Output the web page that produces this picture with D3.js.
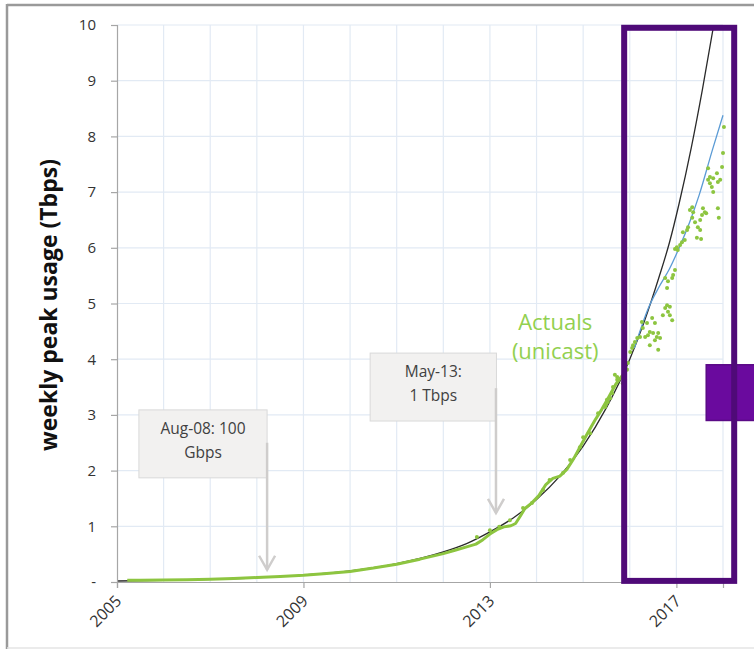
<!DOCTYPE html>
<html>
<head>
<meta charset="utf-8">
<script src="https://cdn.jsdelivr.net/npm/d3@7"></script>
<style>
  html, body { margin: 0; padding: 0; background: #fff; }
  svg { display: block; }
</style>
</head>
<body>
<script>
// ---------------- data ----------------
const xTickYears = [2005, 2009, 2013, 2017];
const yTickValues = [0, 1, 2, 3, 4, 5, 6, 7, 8, 9, 10];
const gridYears = [2006, 2007, 2008, 2009, 2010, 2011, 2012, 2013, 2014, 2015, 2016, 2017, 2018];

// exponential trend (black)
const trendYears  = [2005, 2006, 2007, 2008, 2009, 2010, 2011, 2012, 2012.5, 2013, 2013.5, 2014, 2014.5, 2015, 2015.5, 2016, 2016.3, 2016.63, 2016.85, 2017.06, 2017.32, 2017.56, 2017.79];
const trendValues = [0.018, 0.029, 0.047, 0.077, 0.125, 0.2, 0.33, 0.54, 0.69, 0.9, 1.15, 1.48, 1.9, 2.44, 3.13, 4.0, 4.65, 5.48, 6.09, 6.8, 7.8, 8.85, 9.95];

// forecast (blue)
const forecastYears  = [2016.1, 2016.4, 2016.63, 2016.85, 2017.06, 2017.28, 2017.49, 2017.77, 2018.0];
const forecastValues = [4.2, 4.92, 5.3, 5.62, 6.0, 6.45, 6.95, 7.75, 8.38];

// actuals (green line)
const actualYears  = [2005.22, 2005.5, 2006.0, 2006.5, 2007.0, 2007.5, 2008.0, 2008.5, 2009.0, 2009.5, 2010.0, 2010.5, 2011.0, 2011.5, 2011.75, 2012.0, 2012.25, 2012.5, 2012.7, 2012.85, 2013.0, 2013.15, 2013.3, 2013.45, 2013.55, 2013.65, 2013.75, 2013.9, 2014.05, 2014.2, 2014.35, 2014.5, 2014.65, 2014.8, 2014.95, 2015.1, 2015.25, 2015.4, 2015.55, 2015.7, 2015.85, 2015.95];
const actualValues = [0.03, 0.03, 0.035, 0.042, 0.05, 0.063, 0.08, 0.098, 0.12, 0.152, 0.19, 0.25, 0.32, 0.41, 0.46, 0.51, 0.57, 0.63, 0.68, 0.76, 0.86, 0.94, 0.99, 1.01, 1.05, 1.18, 1.32, 1.42, 1.55, 1.75, 1.86, 1.9, 2.02, 2.22, 2.45, 2.68, 2.9, 3.1, 3.32, 3.55, 3.72, 3.85];

// actuals (green weekly points)
const pointYears  = [2012.72, 2013.0, 2013.2, 2013.43, 2013.71, 2013.9, 2014.14, 2014.28, 2014.57, 2014.72, 2014.93, 2015.0, 2015.15, 2015.32, 2015.51, 2015.73,
  2015.47, 2015.49, 2015.53, 2015.58, 2015.62, 2015.64, 2015.68, 2015.73, 2015.85, 2015.9, 2015.94, 2015.96, 2016.01, 2016.05, 2016.07, 2016.11, 2016.16,
  2016.22, 2016.26, 2016.28, 2016.33, 2016.37, 2016.39, 2016.43, 2016.43, 2016.48, 2016.5, 2016.54, 2016.54, 2016.58, 2016.61, 2016.61, 2016.65, 2016.71,
  2016.76, 2016.8, 2016.8, 2016.82, 2016.82, 2016.86, 2016.86, 2016.91, 2016.76, 2016.91, 2016.93, 2016.97, 2016.97, 2017.01, 2017.03, 2017.08, 2017.12,
  2017.14, 2017.18, 2017.23, 2017.25, 2017.29, 2017.34, 2017.34, 2017.36, 2017.4, 2017.44, 2017.46, 2017.51, 2017.51, 2017.53, 2017.55, 2017.57, 2017.61,
  2017.64, 2017.68, 2017.68, 2017.72, 2017.72, 2017.76, 2017.79, 2017.79, 2017.87, 2017.89, 2017.89, 2017.91, 2017.94, 2017.98, 2018.0, 2018.02];
const pointValues = [0.81, 0.93, 0.99, 1.11, 1.33, 1.42, 1.65, 1.83, 1.96, 2.19, 2.42, 2.6, 2.67, 3.03, 3.27, 3.68,
  3.14, 3.18, 3.23, 3.3, 3.39, 3.5, 3.72, 3.63, 3.57, 3.63, 3.81, 3.93, 4.13, 4.2, 4.25, 4.31, 4.38,
  4.4, 4.67, 4.56, 4.4, 4.65, 4.43, 4.49, 4.25, 4.74, 4.47, 4.65, 4.34, 4.4, 4.47, 4.17, 4.38, 4.79,
  4.92, 5.28, 4.97, 5.4, 4.85, 4.94, 4.79, 4.7, 5.46, 5.46, 5.51, 5.6, 5.98, 6.01, 5.96, 6.05, 6.1,
  6.28, 6.14, 6.32, 6.37, 6.68, 6.73, 6.54, 6.64, 6.46, 6.18, 6.37, 6.5, 6.32, 6.16, 6.59, 6.71, 6.64,
  6.62, 7.43, 7.22, 7.27, 7.16, 7.09, 7.25, 7.0, 7.34, 7.18, 6.71, 6.54, 7.22, 7.45, 7.7, 8.17];

const annotationLines = [["Aug-08: 100", "Gbps"], ["May-13:", "1 Tbps"]];
const seriesLabel = ["Actuals", "(unicast)"];
const yTitle = "weekly peak usage (Tbps)";

// ---------------- layout ----------------
const W = 754, H = 649;
const svg = d3.select("body").append("svg").attr("width", W).attr("height", H);
svg.append("rect").attr("width", W).attr("height", H).attr("fill", "#fff");

const x = d3.scaleLinear().domain([2005, 2018]).range([117, 723]);
const y = d3.scaleLinear().domain([0, 10]).range([582, 25]);

const FONT = "'Open Sans', 'DejaVu Sans', sans-serif";

// outer frame
svg.append("line").attr("x1", 7).attr("x2", W).attr("y1", 5).attr("y2", 5).attr("stroke", "#9a9a9a").attr("stroke-width", 2.5);
svg.append("line").attr("x1", 7).attr("x2", 7).attr("y1", 4).attr("y2", H).attr("stroke", "#9a9a9a").attr("stroke-width", 2.5);
svg.append("line").attr("x1", 7).attr("x2", W).attr("y1", 648).attr("y2", 648).attr("stroke", "#e4e4e4").attr("stroke-width", 1.5);

// gridlines
const grid = svg.append("g");
grid.selectAll("line.h").data(yTickValues.filter(v => v > 0)).join("line")
  .attr("x1", x(2005)).attr("x2", x(2018))
  .attr("y1", d => y(d)).attr("y2", d => y(d))
  .attr("stroke", "#e2eaf4").attr("stroke-width", 1.2);
grid.selectAll("line.v").data(gridYears).join("line")
  .attr("x1", d => x(d)).attr("x2", d => x(d))
  .attr("y1", y(0)).attr("y2", y(10))
  .attr("stroke", "#e2eaf4").attr("stroke-width", 1.2);

// annotation boxes (in data units)
const annos = [
  { lines: annotationLines[0], x0: 2005.47, x1: 2008.22, top: 3.09, bot: 1.87, ax: 2008.22, aFrom: 2.5, aTo: 0.22 },
  { lines: annotationLines[1], x0: 2010.43, x1: 2013.14, top: 4.11, bot: 2.89, ax: 2013.13, aFrom: 3.48, aTo: 1.24 }
];
const ag = svg.append("g");
annos.forEach(a => {
  ag.append("rect")
    .attr("x", x(a.x0)).attr("y", y(a.top))
    .attr("width", x(a.x1) - x(a.x0)).attr("height", y(a.bot) - y(a.top))
    .attr("fill", "#f2f1f0").attr("stroke", "#d9d9d9").attr("stroke-width", 1);
  const cx = (x(a.x0) + x(a.x1)) / 2;
  a.lines.forEach((t, i) => {
    ag.append("text").attr("x", cx).attr("y", y(a.top) + 20 + i * 23.5)
      .attr("text-anchor", "middle").attr("dominant-baseline", "middle")
      .attr("font-family", FONT).attr("font-size", 15.5).attr("fill", "#404040").text(t);
  });
  const ax = x(a.ax), tip = y(a.aTo);
  ag.append("line").attr("x1", ax).attr("x2", ax).attr("y1", y(a.aFrom)).attr("y2", tip)
    .attr("stroke", "#cfcdcc").attr("stroke-width", 2.5);
  ag.append("path").attr("d", `M${ax - 8},${tip - 14} L${ax},${tip} L${ax + 8},${tip - 14}`)
    .attr("fill", "none").attr("stroke", "#cfcdcc").attr("stroke-width", 2.5);
});

// lines
const line = d3.line().x(d => x(d[0])).y(d => y(d[1])).curve(d3.curveMonotoneX);
const trend = trendYears.map((t, i) => [t, trendValues[i]]);
const forecast = forecastYears.map((t, i) => [t, forecastValues[i]]);
const actual = actualYears.map((t, i) => [t, actualValues[i]]);
const points = pointYears.map((t, i) => [t, pointValues[i]]);

svg.append("path").datum(trend).attr("d", line).attr("fill", "none").attr("stroke", "#2a2a2a").attr("stroke-width", 1.3);
svg.append("path").datum(forecast).attr("d", line).attr("fill", "none").attr("stroke", "#5b9bd5").attr("stroke-width", 1.3);
svg.append("path").datum(actual).attr("d", d3.line().x(d => x(d[0])).y(d => y(d[1])))
  .attr("fill", "none").attr("stroke", "#8dc540").attr("stroke-width", 3).attr("stroke-linejoin", "round");
svg.append("g").selectAll("circle").data(points).join("circle")
  .attr("cx", d => x(d[0])).attr("cy", d => y(d[1])).attr("r", 2).attr("fill", "#8dc540");

// series label
seriesLabel.forEach((t, i) => {
  svg.append("text").attr("x", x(2014.4)).attr("y", y(4.52) + i * 29)
    .attr("text-anchor", "middle").attr("font-family", FONT).attr("font-size", 22)
    .attr("fill", "#92d050").text(t);
});

// axes
const yAxis = svg.append("g").attr("transform", `translate(${x(2005)},0)`)
  .call(d3.axisLeft(y).tickValues(yTickValues).tickSize(6).tickPadding(15)
    .tickFormat(d => d === 0 ? "-" : d3.format("d")(d)));
yAxis.select(".domain").attr("stroke", "#a6a6a6").attr("stroke-width", 1.2);
yAxis.selectAll(".tick line").attr("stroke", "#a6a6a6").attr("stroke-width", 1.2);
yAxis.selectAll(".tick text").attr("font-family", FONT).attr("font-size", 15).attr("fill", "#333");

const xAxis = svg.append("g").attr("transform", `translate(0,${y(0)})`)
  .call(d3.axisBottom(x).tickValues(xTickYears).tickSize(6).tickFormat(d3.format("d")));
xAxis.select(".domain").attr("stroke", "#a6a6a6").attr("stroke-width", 1.2);
xAxis.selectAll(".tick line").attr("stroke", "#a6a6a6").attr("stroke-width", 1.2);
xAxis.selectAll(".tick text")
  .attr("font-family", FONT).attr("font-size", 16).attr("fill", "#333")
  .attr("text-anchor", "end").attr("dy", null).attr("y", null)
  .attr("transform", "translate(5,20) rotate(-45)");

// y title
svg.append("text").attr("transform", `translate(57,305) rotate(-90)`)
  .attr("text-anchor", "middle").attr("font-family", FONT).attr("font-weight", "bold")
  .attr("font-size", 23).attr("fill", "#111").text(yTitle);

// highlight rectangles
svg.append("rect")
  .attr("x", x(2017.64)).attr("y", y(3.9))
  .attr("width", x(2019.5) - x(2017.64)).attr("height", y(2.9) - y(3.9))
  .attr("fill", "#6a0a9e").attr("stroke", "#5a0a86").attr("stroke-width", 1.5);
svg.append("rect")
  .attr("x", x(2015.88)).attr("y", y(9.95))
  .attr("width", x(2018.24) - x(2015.88)).attr("height", y(0.02) - y(9.95))
  .attr("fill", "none").attr("stroke", "#4f0a78").attr("stroke-width", 6);
</script>
</body>
</html>
